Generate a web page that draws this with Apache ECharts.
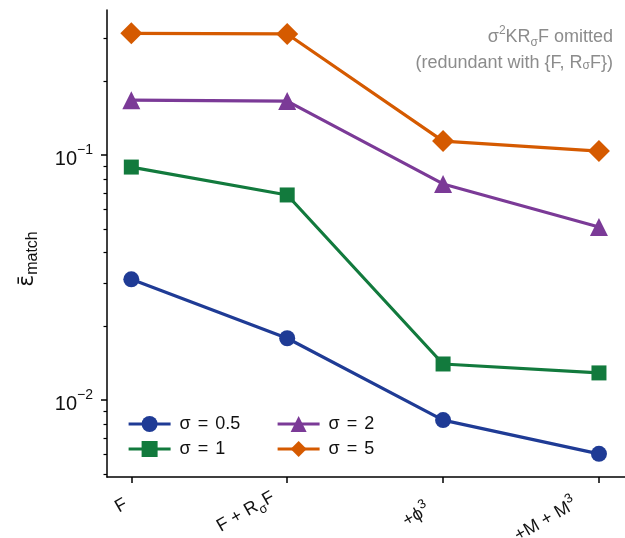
<!DOCTYPE html>
<html>
<head>
<meta charset="utf-8">
<script src="https://cdn.jsdelivr.net/npm/echarts@6/dist/echarts.min.js"></script>
<style>html,body{margin:0;padding:0;background:#fff}#c{width:625px;height:538px}</style>
</head>
<body>
<div id="c"></div>
<script>
// ---- data ----
var categories = ['F', 'F + R_σF', '+ϕ^3', '+M + M^3'];
var seriesNames = ['σ = 0.5', 'σ = 1', 'σ = 2', 'σ = 5'];
var sigma05 = [0.0311, 0.01787, 0.00828, 0.00603];
var sigma1  = [0.0893, 0.0687, 0.01403, 0.0129];
var sigma2  = [0.1675, 0.166, 0.0762, 0.0508];
var sigma5  = [0.314, 0.312, 0.114, 0.1038];
var yMajorTicks = [0.01, 0.1];
var yMinorTicks = [0.005, 0.006, 0.007, 0.008, 0.009, 0.02, 0.03, 0.04, 0.05, 0.06, 0.07, 0.08, 0.09, 0.2, 0.3];

var FONT = 'Liberation Sans, Arial, sans-serif';
var colors = ['#1f3b95', '#127a3d', '#7b3a97', '#d55a00'];
var symbols = ['circle', 'rect', 'triangle', 'diamond'];
var symbolSizes = [16, 15, 18, 22];
var allVals = [sigma05, sigma1, sigma2, sigma5];

// per-label layout tweaks (mimic matplotlib's rotated-bbox anchoring)
var labelTrail = [6, 10, 17, 22];
var labelUp = [0, 21, 0, 19];

var richX = {
  n: {fontSize: 18, fontFamily: FONT, color: '#111', lineHeight: 26},
  sub: {fontSize: 13, fontFamily: FONT, color: '#111', lineHeight: 15, verticalAlign: 'bottom'},
  sup: {fontSize: 13, fontFamily: FONT, color: '#111', lineHeight: 15, verticalAlign: 'top'}
};
labelTrail.forEach(function (t, i) {
  richX['p' + i] = {fontSize: 18, fontFamily: FONT, width: t, lineHeight: 26};
  richX['u' + i] = {fontSize: 2, fontFamily: FONT, lineHeight: Math.max(labelUp[i], 1)};
});
var richY = {
  n: {fontSize: 20, fontFamily: FONT, color: '#111', lineHeight: 24, padding: [9, 0, 0, 0]},
  sup: {fontSize: 14, fontFamily: FONT, color: '#111', lineHeight: 16, verticalAlign: 'top'}
};

function catLabel(i) {
  var s = categories[i];
  var out = '';
  var m;
  var re = /([^_^]+)|_(.)|\^(.)/g;
  while ((m = re.exec(s)) !== null) {
    if (m[1]) out += '{n|' + m[1] + '}';
    else if (m[2]) out += '{sub|' + m[2] + '}';
    else if (m[3]) out += '{sup|' + m[3] + '}';
  }
  out += '{p' + i + '| }';
  if (labelUp[i] > 0) out += '\n{u' + i + '| }';
  return out;
}

var series = seriesNames.map(function (name, k) {
  return {
    name: name,
    type: 'line',
    data: categories.map(function (c, i) { return [i, allVals[k][i]]; }),
    symbol: symbols[k],
    symbolSize: symbolSizes[k],
    lineStyle: {color: colors[k], width: 3.2},
    itemStyle: {color: colors[k]},
    z: 2 + k,
    animation: false
  };
});

var legendCommon = {
  orient: 'vertical',
  top: 410,
  itemWidth: 42,
  itemHeight: 20,
  itemGap: 7,
  lineStyle: {width: 3.2},
  formatter: function (name) {
    var parts = name.split(' = ');
    return '{n|' + parts[0] + '}{eq|=}{n|' + parts[1] + '}';
  },
  textStyle: {
    fontSize: 18, fontFamily: FONT, color: '#111', padding: [0, 0, 0, 4],
    rich: {
      n: {fontSize: 18, fontFamily: FONT, color: '#111'},
      eq: {fontSize: 18, fontFamily: FONT, color: '#111', padding: [0, 7, 0, 7]}
    }
  }
};

var chart = echarts.init(document.getElementById('c'), null, {renderer: 'canvas'});
chart.setOption({
  animation: false,
  backgroundColor: '#fff',
  grid: {left: 107, right: 0, top: 10, bottom: 61, containLabel: false, outerBoundsMode: 'none'},
  xAxis: {
    type: 'value',
    min: -0.156,
    max: 3.167,
    splitLine: {show: false},
    axisLine: {show: true, onZero: false, lineStyle: {color: '#000', width: 1.5}},
    axisTick: {show: true, length: 6, lineStyle: {color: '#000', width: 1.5}, customValues: [0, 1, 2, 3]},
    axisLabel: {
      customValues: [0, 1, 2, 3],
      rotate: 30,
      margin: 23,
      formatter: function (v) { return catLabel(Math.round(v)); },
      rich: richX
    }
  },
  yAxis: [{
    type: 'log',
    logBase: 10,
    min: 0.00485,
    max: 0.3908,
    splitLine: {show: false},
    axisLine: {show: true, onZero: false, lineStyle: {color: '#000', width: 1.5}},
    axisTick: {show: true, length: 6, lineStyle: {color: '#000', width: 1.5}, customValues: yMajorTicks},
    axisLabel: {
      customValues: yMajorTicks,
      margin: 14,
      formatter: function (v) {
        var e = Math.round(Math.log10(v));
        return '{n|10}{sup|' + (e < 0 ? '\u2212' + (-e) : e) + '}';
      },
      rich: richY
    }
  }, {
    type: 'log',
    logBase: 10,
    min: 0.00485,
    max: 0.3908,
    position: 'left',
    offset: 0,
    splitLine: {show: false},
    axisLine: {show: false, onZero: false},
    axisTick: {show: true, length: 3.5, lineStyle: {color: '#000', width: 1.2}, customValues: yMinorTicks},
    axisLabel: {show: false}
  }],
  legend: [
    Object.assign({data: [seriesNames[0], seriesNames[1]], left: 122}, legendCommon),
    Object.assign({data: [seriesNames[2], seriesNames[3]], left: 271}, legendCommon)
  ],
  graphic: [{
    type: 'text',
    x: 27,
    y: 259,
    rotation: Math.PI / 2,
    style: {
      text: '{e|\u03b5\u0304}{sub|match}',
      align: 'center',
      verticalAlign: 'middle',
      fill: '#111',
      rich: {
        e: {fontSize: 22, fontFamily: 'DejaVu Sans', fill: '#111', lineHeight: 28},
        sub: {fontSize: 16, fontFamily: FONT, fill: '#111', lineHeight: 16, verticalAlign: 'bottom'}
      }
    }
  }, {
    type: 'text',
    right: 12,
    top: 25,
    style: {
      text: '{n|σ}{sup|2}{n|KR}{sub|σ}{n|F omitted}',
      align: 'right',
      fill: '#8c8c8c',
      rich: {
        n: {fontSize: 18, fontFamily: FONT, fill: '#8c8c8c', lineHeight: 24},
        sub: {fontSize: 12, fontFamily: FONT, fill: '#8c8c8c', lineHeight: 13, verticalAlign: 'bottom'},
        sup: {fontSize: 12, fontFamily: FONT, fill: '#8c8c8c', lineHeight: 13, verticalAlign: 'top'}
      }
    }
  }, {
    type: 'text',
    right: 12,
    top: 54,
    style: {
      text: '(redundant with {F, R{sub|σ}F})',
      align: 'right',
      fontSize: 18, fontFamily: FONT, fill: '#8c8c8c',
      rich: {
        sub: {fontSize: 12, fontFamily: FONT, fill: '#8c8c8c', lineHeight: 13, verticalAlign: 'bottom'}
      }
    }
  }],
  series: series
});
</script>
</body>
</html>
